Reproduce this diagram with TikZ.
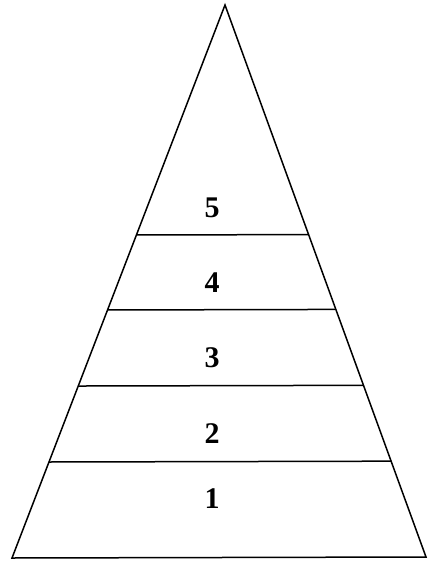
\documentclass[tikz,border=0pt]{standalone}
\usepackage{fontspec}
\setmainfont{Liberation Serif}
\usetikzlibrary{calc}
\begin{document}
\begin{tikzpicture}[x=1pt,y=-1pt,
  edge/.style={line width=1.5pt,line join=miter},
  level/.style={font=\bfseries\fontsize{30}{30}\selectfont,inner sep=0pt}]
\useasboundingbox (0,0) rectangle (429,565);
\coordinate (A) at (225,5);
\coordinate (BL) at (12,558);
\coordinate (BR) at (426,557);
\draw[edge] (A) -- (BL) -- (BR) -- cycle;
\foreach \t/\n in {0.4159/a,0.5515/b,0.6890/c,0.8264/d}{
  \coordinate (L\n) at ($(A)!\t!(BL)$);
  \coordinate (R\n) at ($(A)!\t!(BR)$);
  \draw[edge] (L\n) -- (R\n);
}
\node[level] (n5) at (212,208) {5};
\node[level] (n4) at (212,283) {4};
\node[level] (n3) at (212,358) {3};
\node[level] (n2) at (212,434) {2};
\node[level] (n1) at (212,499) {1};
\end{tikzpicture}
\end{document}
